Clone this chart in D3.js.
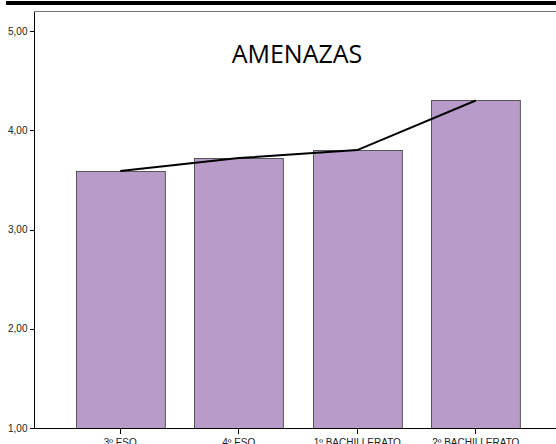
<!DOCTYPE html>
<meta charset="utf-8">
<style>
body { margin: 0; background: #fff; }
.axis text { font: 10px "Liberation Sans", Arial, sans-serif; fill: #222; }
.axis path, .axis line { stroke: #000; shape-rendering: crispEdges; }
</style>
<body>
<script src="https://d3js.org/d3.v7.min.js"></script>
<script>

// data
var cursos = ["3º ESO", "4º ESO", "1º BACHILLERATO", "2º BACHILLERATO"];
var medias = [3.59, 3.72, 3.80, 4.30];
var yTicks = [1, 2, 3, 4, 5];

var width = 556, height = 444;

var svg = d3.select("body").append("svg")
    .attr("width", width)
    .attr("height", height);

var x = d3.scaleBand()
    .domain(cursos)
    .range([61, 535])
    .paddingInner(0.25)
    .paddingOuter(0.125);

var y = d3.scaleLinear()
    .domain([1, 5])
    .range([428, 31]);

// black strip across the top
svg.append("rect")
    .attr("x", 6).attr("y", 1)
    .attr("width", 550).attr("height", 4)
    .attr("fill", "#000");

// frame top line
svg.append("line")
    .attr("x1", 34).attr("x2", width)
    .attr("y1", 11.5).attr("y2", 11.5)
    .attr("stroke", "#777");

// bars
svg.selectAll(".bar")
    .data(medias)
    .enter().append("rect")
      .attr("class", "bar")
      .attr("x", function(d, i) { return Math.round(x(cursos[i])) + 0.5; })
      .attr("y", function(d) { return Math.round(y(d)) + 0.5; })
      .attr("width", x.bandwidth())
      .attr("height", function(d) { return y(1) - Math.round(y(d)); })
      .attr("fill", "#b89bc9")
      .attr("stroke", "#555")
      .attr("stroke-width", 1);

// line through the means
var line = d3.line()
    .x(function(d, i) { return x(cursos[i]) + x.bandwidth() / 2; })
    .y(function(d) { return y(d); });

svg.append("path")
    .datum(medias)
    .attr("d", line)
    .attr("fill", "none")
    .attr("stroke", "#000")
    .attr("stroke-width", 2);

// y axis
var fmt = function(d) { return d3.format(".2f")(d).replace(".", ","); };
svg.append("g")
    .attr("class", "axis")
    .attr("transform", "translate(34.5,0)")
    .call(d3.axisLeft(y).tickValues(yTicks).tickFormat(fmt).tickSize(5).tickSizeOuter(0))
    .call(function(g) { g.select(".domain").attr("d", "M0,11.5V428.5"); })
    .selectAll("text").attr("dx", "1");

// x axis
svg.append("g")
    .attr("class", "axis")
    .attr("transform", "translate(0,428.5)")
    .call(d3.axisBottom(x).tickSize(5).tickSizeOuter(0))
    .call(function(g) { g.select(".domain").attr("d", "M34,0H556"); })
    .selectAll("text").attr("dy", "0.95em");

// title
svg.append("text")
    .attr("x", 297)
    .attr("y", 63)
    .attr("text-anchor", "middle")
    .style("font", "25px 'Open Sans', sans-serif")
    .style("fill", "#000")
    .text("AMENAZAS");

</script>
